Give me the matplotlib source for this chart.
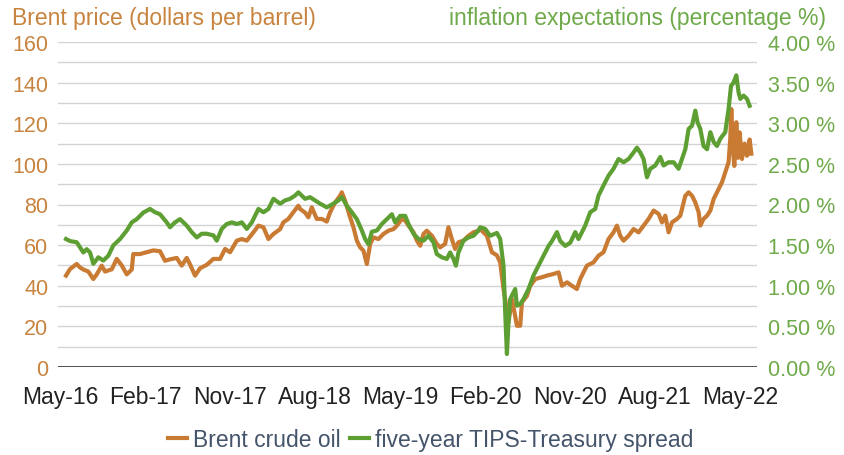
import matplotlib
matplotlib.use("Agg")
import matplotlib.pyplot as plt
from matplotlib.ticker import FuncFormatter, MultipleLocator

plt.rcParams['font.family'] = ['Liberation Sans', 'DejaVu Sans']

# x values: months since May 2016
tick_pos = [0, 9, 18, 27, 36, 45, 54, 63, 72]
tick_labels = ["May-16", "Feb-17", "Nov-17", "Aug-18", "May-19", "Feb-20", "Nov-20", "Aug-21", "May-22"]

brent_m = [0.64, 1.06, 1.77, 2.12, 2.47, 3.00, 3.53, 3.89, 4.42, 4.77, 5.48, 6.01, 6.54, 7.07, 7.60, 7.76,
           8.47, 9.18, 9.88, 10.59, 11.12, 11.65, 12.36, 12.89, 13.42, 13.77, 14.30, 14.83, 15.54, 16.24,
           16.95, 17.48, 18.01, 18.72, 19.25, 19.78, 20.48, 21.01, 21.54, 22.07, 22.60, 23.31, 23.65, 24.18,
           24.71, 25.24, 25.42, 25.95, 26.30, 26.66, 27.19, 27.72, 28.25, 28.60, 29.13, 29.66, 29.84, 30.19,
           30.72, 31.07, 31.43, 31.78, 32.13, 32.49, 32.84, 33.19, 33.72, 34.25, 34.78, 35.31, 35.67, 36.20,
           36.55, 36.90, 37.43, 37.79, 38.14, 38.49, 38.84, 39.38, 39.90, 40.25, 40.78, 41.13, 41.49, 41.84,
           42.19, 42.72, 43.25, 43.78, 44.31, 44.49, 45.20, 45.73, 46.26, 46.61, 46.96, 47.25, 47.49, 47.85,
           48.20, 48.38, 48.73, 48.91, 49.44, 49.79, 50.32, 51.03, 51.56, 52.26, 52.79, 53.15, 53.68, 54.20,
           54.73, 55.08, 55.43, 55.79, 56.49, 57.02, 57.55, 58.08, 58.61, 58.97, 59.32, 59.67, 60.20, 60.73,
           61.26, 61.79, 62.32, 62.85, 63.38, 63.74, 64.09, 64.44, 64.80, 65.33, 65.68, 66.21, 66.56, 66.92,
           67.27, 67.62, 67.80, 68.14, 68.51, 68.86, 69.21, 69.74, 70.09, 70.44, 70.79, 70.97, 71.08, 71.26,
           71.40, 71.61, 71.79, 71.96, 72.21, 72.49, 72.74, 73.02, 73.20]
brent = [45.0, 48.2, 50.7, 49.0, 48.0, 47.0, 43.3, 45.6, 49.9, 47.0, 48.1, 53.2, 50.0, 45.6, 48.0, 55.6,
         55.6, 56.5, 57.4, 57.0, 52.3, 53.0, 53.7, 49.9, 53.7, 50.5, 45.0, 48.6, 50.3, 53.2,
         53.2, 58.1, 56.5, 62.2, 63.0, 62.2, 66.3, 69.6, 68.8, 63.0, 65.5, 67.9, 71.2, 72.9,
         76.2, 79.4, 77.8, 76.0, 73.7, 78.6, 72.9, 72.9, 71.6, 76.2, 81.0, 84.3, 86.0, 81.8,
         73.7, 68.8, 62.2, 58.9, 57.3, 50.7, 60.5, 63.8, 63.0, 65.5, 67.1, 67.9, 69.6, 72.9,
         72.1, 69.6, 66.3, 62.2, 59.7, 65.5, 67.1, 64.6, 60.6, 58.9, 60.6, 68.8, 63.0, 58.1,
         61.4, 62.2, 64.6, 66.3, 67.1, 67.9, 64.6, 56.5, 55.0, 51.5, 38.4, 30.0, 22.0, 33.5,
         25.0, 20.3, 20.3, 31.8, 35.0, 40.0, 43.3, 44.2, 45.0, 45.8, 46.6, 40.0, 41.7, 40.0,
         38.4, 43.3, 46.6, 49.9, 51.5, 54.8, 56.5, 63.0, 66.3, 69.6, 64.6, 62.2, 64.6, 67.9,
         66.3, 69.6, 72.9, 77.0, 75.4, 71.2, 74.5, 66.3, 71.2, 72.9, 74.5, 84.3, 86.0, 84.3,
         81.0, 76.2, 69.6, 72.9, 74.5, 77.0, 82.7, 87.6, 90.9, 95.8, 100.8, 112.3, 127.0, 107.0,
         99.0, 120.5, 103.0, 115.5, 102.4, 110.0, 104.0, 112.0, 105.0]

tips_m = [0.64, 1.06, 1.77, 2.47, 2.83, 3.18, 3.53, 4.06, 4.59, 5.12, 5.65, 6.36, 7.07, 7.60, 8.13, 8.82,
          9.53, 10.06, 10.59, 11.30, 11.65, 12.18, 12.71, 13.42, 13.95, 14.48, 15.01, 15.54, 16.24, 16.60,
          17.13, 17.66, 18.19, 18.72, 19.25, 19.78, 20.31, 21.01, 21.54, 22.07, 22.60, 23.31, 23.83, 24.36,
          24.89, 25.24, 25.42, 25.95, 26.48, 27.01, 27.54, 28.25, 28.95, 29.48, 29.84, 30.37, 30.90, 31.43,
          31.96, 32.31, 32.66, 33.02, 33.55, 34.08, 34.61, 35.14, 35.49, 36.02, 36.55, 36.90, 37.43, 37.96,
          38.49, 39.01, 39.54, 39.90, 40.43, 40.96, 41.31, 41.66, 41.92, 42.19, 42.72, 43.25, 43.78, 44.31,
          44.49, 45.02, 45.55, 46.26, 46.61, 46.96, 47.14, 47.32, 47.49, 47.67, 48.02, 48.20, 48.38, 48.73,
          49.08, 49.61, 50.14, 50.67, 51.20, 51.73, 52.09, 52.62, 52.97, 53.50, 54.03, 54.56, 54.90, 55.26,
          55.61, 56.14, 56.67, 57.02, 57.55, 58.08, 58.61, 59.14, 59.67, 60.20, 60.73, 61.09, 61.44, 61.79,
          62.15, 62.50, 63.03, 63.56, 63.91, 64.44, 64.97, 65.50, 65.86, 66.21, 66.56, 66.92, 67.27, 67.51,
          67.80, 68.14, 68.51, 68.86, 69.21, 69.56, 69.92, 70.44, 70.79, 71.05, 71.32, 71.61, 71.85, 72.03,
          72.38, 72.74, 73.02]
tips = [1.575, 1.55, 1.535, 1.41, 1.45, 1.41, 1.27, 1.35, 1.31, 1.37, 1.497, 1.575, 1.68, 1.78, 1.82, 1.90,
        1.945, 1.905, 1.88, 1.78, 1.72, 1.78, 1.82, 1.74, 1.66, 1.595, 1.64, 1.64, 1.62, 1.555,
        1.70, 1.76, 1.78, 1.76, 1.78, 1.70, 1.78, 1.945, 1.905, 1.945, 2.07, 2.01, 2.05, 2.07,
        2.11, 2.15, 2.13, 2.07, 2.09, 2.05, 2.01, 1.965, 2.01, 2.05, 2.09, 1.985, 1.905, 1.82,
        1.68, 1.575, 1.51, 1.665, 1.68, 1.76, 1.82, 1.88, 1.78, 1.86, 1.86, 1.76, 1.64, 1.575,
        1.555, 1.615, 1.535, 1.39, 1.35, 1.33, 1.41, 1.33, 1.247, 1.41, 1.555, 1.595, 1.615, 1.68,
        1.72, 1.70, 1.615, 1.65, 1.575, 1.247, 0.673, 0.16, 0.55, 0.837, 0.92, 0.96, 0.754, 0.775,
        0.837, 0.96, 1.128, 1.25, 1.37, 1.49, 1.55, 1.66, 1.55, 1.49, 1.53, 1.66, 1.575, 1.66,
        1.74, 1.905, 1.945, 2.11, 2.235, 2.355, 2.44, 2.56, 2.52, 2.56, 2.64, 2.70, 2.64, 2.56,
        2.335, 2.44, 2.48, 2.585, 2.48, 2.52, 2.52, 2.44, 2.56, 2.68, 2.93, 2.97, 3.155, 3.01,
        2.93, 2.72, 2.68, 2.89, 2.77, 2.72, 2.81, 2.89, 3.175, 3.46, 3.50, 3.59, 3.38, 3.30,
        3.34, 3.30, 3.215]

ORANGE = '#C97A33'
GREEN = '#5E9F33'
ORANGE_TXT = '#C8843F'
GREEN_TXT = '#6FAA4A'

fig = plt.figure(figsize=(8.44, 4.56), dpi=100)
ax = fig.add_axes([58/844, 1-368/456, (757-58)/844, (368-43)/456])
ax2 = ax.twinx()

ax.set_xlim(-0.21, 73.8)
ax.set_ylim(0, 160)
ax2.set_ylim(0, 4)

ax.yaxis.set_major_locator(MultipleLocator(20))
ax.yaxis.set_minor_locator(MultipleLocator(10))
ax.grid(axis='y', which='both', color='#D3D3D3', linewidth=1.0)
ax.set_axisbelow(True)
ax2.yaxis.set_major_locator(MultipleLocator(0.5))
ax2.yaxis.set_major_formatter(FuncFormatter(lambda v, p: f"{v:.2f} %"))

for a in (ax, ax2):
    for s in ('top', 'left', 'right', 'bottom'):
        a.spines[s].set_visible(False)
ax.axhline(0, color='#333333', linewidth=1.2, zorder=5)

ax.tick_params(axis='y', which='both', length=0, labelsize=15.5, labelcolor=ORANGE_TXT, pad=7)
ax2.tick_params(axis='y', which='both', length=0, labelsize=15.5, labelcolor=GREEN_TXT, pad=8)
ax.set_xticks(tick_pos)
ax.set_xticklabels(tick_labels)
ax.tick_params(axis='x', length=0, labelsize=16.5, labelcolor='#222222', pad=13)

l1, = ax2.plot(brent_m, [v / 40 for v in brent], color=ORANGE, linewidth=3.0, label='Brent crude oil')
l2, = ax2.plot(tips_m, tips, color=GREEN, linewidth=3.0, label='five-year TIPS-Treasury spread')

fig.text(12/844, 1-25/456, 'Brent price (dollars per barrel)', color=ORANGE_TXT, fontsize=16.5, va='baseline', ha='left')
fig.text(826/844, 1-25/456, 'inflation expectations (percentage %)', color=GREEN_TXT, fontsize=16.5, va='baseline', ha='right')

leg = fig.legend(handles=[l1, l2], loc='center', bbox_to_anchor=(431/844, 1-441/456), ncol=2, frameon=False,
                 fontsize=16.5, handlelength=0.8, handletextpad=0.3, columnspacing=0.4, borderaxespad=0)
for t in leg.get_texts():
    t.set_color('#44546A')

fig.savefig('out.png', dpi=100)
